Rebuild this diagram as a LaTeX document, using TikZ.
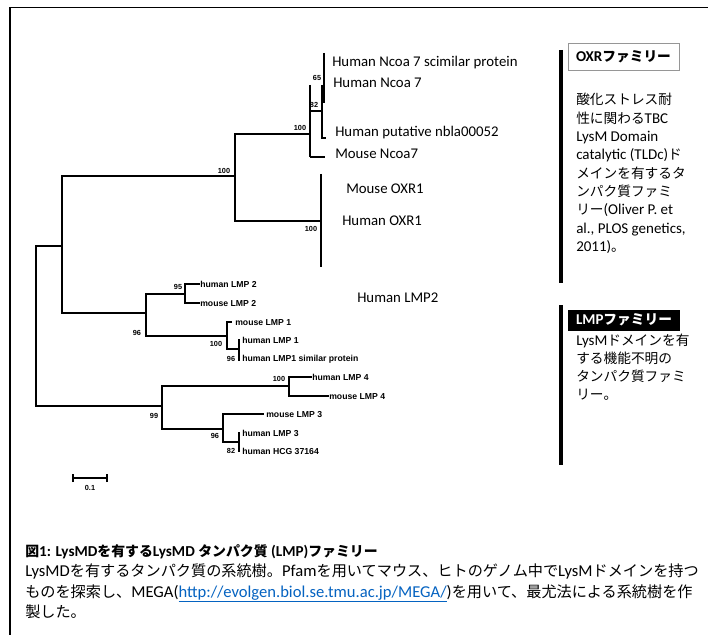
\documentclass[tikz,border=0pt]{standalone}
\usepackage{fontspec}
\setmainfont{Carlito}
\newfontfamily\jp[Scale=0.913]{Noto Sans CJK JP}
\newfontfamily\arialf{Liberation Sans}
\definecolor{linkblue}{RGB}{5,99,193}
\definecolor{boxgray}{RGB}{150,150,150}
\tikzset{
  br/.style={line width=1.1pt, line cap=rect},
  thinbr/.style={line width=0.8pt},
  leaf/.style={anchor=base west, inner sep=0pt, font=\fontsize{11.1}{13}\selectfont},
  lmpleaf/.style={anchor=base west, inner sep=0pt, font=\arialf\bfseries\fontsize{6.5}{8}\selectfont},
  boot/.style={anchor=center, inner sep=0pt, font=\arialf\bfseries\fontsize{5.5}{7}\selectfont},
  ptxt/.style={anchor=base west, inner sep=0pt, font=\fontsize{11.25}{14}\selectfont},
  captxt/.style={anchor=base west, inner sep=0pt, font=\fontsize{12.45}{15}\selectfont},
  sidebar/.style={line width=2.6pt},
}
\begin{document}
\begin{tikzpicture}[x=0.75pt,y=-0.75pt]
\useasboundingbox (0,0) rectangle (708,635);
\fill[white] (0,0) rectangle (708,635);

% frame
\coordinate (fTL) at (10,7.5);
\coordinate (fTR) at (708,7.5);
\coordinate (fBL) at (10,635);
\draw[line width=1.1pt] (fTR) -- (fTL);
\draw[line width=1.5pt] (fTL) -- (fBL);

% ---------- tree coordinates ----------
\coordinate (R) at (36,326);
\coordinate (A) at (62,246);
\coordinate (B) at (162,406);
\coordinate (A1) at (235,176);
\coordinate (A2) at (146,313);
\coordinate (A11) at (310,134);
\coordinate (A12) at (321,221);
\coordinate (A111) at (322,111);
\coordinate (A1111) at (324,85);
\coordinate (tMN) at (325,157);
\coordinate (tNB) at (326,138);
\coordinate (a1) at (324,53);
\coordinate (a2) at (324,103);
\coordinate (a3) at (322,85);
\coordinate (u1) at (321,174);
\coordinate (u2) at (321,267);
\coordinate (A21) at (185,294);
\coordinate (A22) at (227,336);
\coordinate (t2h) at (199,284);
\coordinate (t2m) at (199,303);
\coordinate (t1m) at (231,322);
\coordinate (A221) at (239,349);
\coordinate (v1) at (239,340);
\coordinate (v2) at (239,360);
\coordinate (B1) at (289,386);
\coordinate (B2) at (223,429);
\coordinate (t4h) at (311,377);
\coordinate (t4m) at (328,396);
\coordinate (t3m) at (263,414);
\coordinate (B21) at (239,442);
\coordinate (w1) at (239,433);
\coordinate (w2) at (239,451);

% root
\draw[br] (R |- A) -- (R |- B);
\draw[br] (R |- A) -- (A);
\draw[br] (R |- B) -- (B);
% A
\draw[br] (A |- A1) -- (A |- A2);
\draw[br] (A |- A1) -- (A1);
\draw[br] (A |- A2) -- (A2);
% A1 (OXR clade)
\draw[br] (A1 |- A11) -- (A1 |- A12);
\draw[br] (A1 |- A11) -- (A11);
\draw[br] (A1 |- A12) -- (A12);
\draw[thinbr] (A11 |- a3) -- (A11 |- tMN);
\draw[thinbr] (A11 |- A111) -- (A111);
\draw[thinbr] (A11 |- tMN) -- (tMN);
\draw[thinbr] (a3) -- (A111 |- tNB) -- (tNB);
\draw[thinbr] (a1) -- (a2);
\draw[thinbr] (u1) -- (u2);
% A2 (LMP1/2)
\draw[br] (A2 |- A21) -- (A2 |- A22);
\draw[br] (A2 |- A21) -- (A21);
\draw[br] (A2 |- A22) -- (A22);
\draw[br] (A21 |- t2h) -- (A21 |- t2m);
\draw[br] (A21 |- t2h) -- (t2h);
\draw[br] (A21 |- t2m) -- (t2m);
\draw[br] (A22 |- t1m) -- (A22 |- A221);
\draw[br] (A22 |- t1m) -- (t1m);
\draw[br] (A22 |- A221) -- (A221);
\draw[br] (v1) -- (v2);
% B (LMP3/4)
\draw[br] (B |- B1) -- (B |- B2);
\draw[br] (B |- B1) -- (B1);
\draw[br] (B |- B2) -- (B2);
\draw[br] (B1 |- t4h) -- (B1 |- t4m);
\draw[br] (B1 |- t4h) -- (t4h);
\draw[br] (B1 |- t4m) -- (t4m);
\draw[br] (B2 |- t3m) -- (B2 |- B21);
\draw[br] (B2 |- t3m) -- (t3m);
\draw[br] (B2 |- B21) -- (B21);
\draw[br] (w1) -- (w2);

% bootstrap values
\node[boot] (bA1) at (224,171) {100};
\node[boot] (bA11) at (300,128) {100};
\node[boot] (bA111) at (314,105) {82};
\node[boot] (bA1111) at (317,78) {65};
\node[boot] (bA12) at (311,229) {100};
\node[boot] (bA21) at (178,287) {95};
\node[boot] (bA2) at (137,333) {96};
\node[boot] (bA22) at (216,344) {100};
\node[boot] (bA221) at (231,359) {96};
\node[boot] (bB1) at (279,379) {100};
\node[boot] (bB) at (154,416) {99};
\node[boot] (bB2) at (215,436) {96};
\node[boot] (bB21) at (231,451) {82};

% OXR leaves
\node[leaf] (lN7s) at (332,67) {Human Ncoa 7 scimilar protein};
\node[leaf] (lN7) at (333,88) {Human Ncoa 7};
\node[leaf] (lNB) at (335,137) {Human putative nbla00052};
\node[leaf] (lMN) at (335,159) {Mouse Ncoa7};
\node[leaf] (lMO) at (346,194) {Mouse OXR1};
\node[leaf] (lHO) at (342,225) {Human OXR1};
\node[leaf] (lHL2) at (357,302) {Human LMP2};

% LMP leaves
\node[lmpleaf] (l2h) at (200,287.2) {human LMP 2};
\node[lmpleaf] (l2m) at (200,306.2) {mouse LMP 2};
\node[lmpleaf] (l1m) at (235,325.2) {mouse LMP 1};
\node[lmpleaf] (l1h) at (242,343.2) {human LMP 1};
\node[lmpleaf] (l1s) at (242,361.2) {human LMP1 similar protein};
\node[lmpleaf] (l4h) at (312,380.2) {human LMP 4};
\node[lmpleaf] (l4m) at (329,399.2) {mouse LMP 4};
\node[lmpleaf] (l3m) at (266,417.2) {mouse LMP 3};
\node[lmpleaf] (l3h) at (242,436.2) {human LMP 3};
\node[lmpleaf] (lhcg) at (242,454.2) {human HCG 37164};

% scale bar
\coordinate (sb1) at (73,478);
\coordinate (sb2) at (107,478);
\draw[line width=0.9pt] (sb1) -- (sb2);
\draw[line width=0.9pt] ([yshift=-3]sb1) -- ([yshift=3]sb1);
\draw[line width=0.9pt] ([yshift=-3]sb2) -- ([yshift=3]sb2);
\node[boot] (sbl) at (90,488) {0.1};

% ---------- right panel ----------
\coordinate (bar1a) at (561,50);
\coordinate (bar1b) at (561,283);
\coordinate (bar2a) at (561,305);
\coordinate (bar2b) at (561,465);
\draw[sidebar] (bar1a) -- (bar1b);
\draw[sidebar] (bar2a) -- (bar2b);

\node[draw=boxgray, line width=0.6pt, minimum width=83.25pt, minimum height=20.25pt, inner sep=0pt,
      font=\bfseries\fontsize{11.25}{14}\selectfont] (oxrbox) at (623.5,56.5) {OXR{\jp ファミリー}};
\node[fill=black, text=white, minimum width=84pt, minimum height=15.75pt, inner sep=0pt,
      font=\bfseries\fontsize{11.25}{14}\selectfont] (lmpbox) at (624,320)
      {LMP{\jp ファミリー}};

\node[ptxt] (o1) at (576,105) {{\jp 酸化ストレス耐}};
\node[ptxt] (o2) at (576,123.3) {{\jp 性に関わる}TBC};
\node[ptxt] (o3) at (576,141.6) {LysM Domain};
\node[ptxt] (o4) at (576,159.9) {catalytic (TLDc){\jp ド}};
\node[ptxt] (o5) at (576,178.2) {{\jp メインを有するタ}};
\node[ptxt] (o6) at (576,196.5) {{\jp ンパク質ファミ}};
\node[ptxt] (o7) at (576,214.8) {{\jp リー}(Oliver P. et};
\node[ptxt] (o8) at (576,233.1) {al., PLOS genetics,};
\node[ptxt] (o9) at (576,251.4) {2011){\jp 。}};

\node[ptxt] (m1) at (576,345) {LysM{\jp ドメインを有}};
\node[ptxt] (m2) at (576,363.3) {{\jp する機能不明の}};
\node[ptxt] (m3) at (576,381.6) {{\jp タンパク質ファミ}};
\node[ptxt] (m4) at (576,399.9) {{\jp リー。}};

% ---------- caption ----------
\node[ptxt, font=\bfseries\fontsize{11.4}{14}\selectfont] (c1) at (25,556)
  {{\jp 図}1: LysMD{\jp を有する}LysMD {\jp タンパク質} (LMP){\jp ファミリー}};
\node[captxt] (c2) at (25,576.5)
  {LysMD{\jp を有するタンパク質の系統樹。}Pfam{\jp を用いてマウス、ヒトのゲノム中で}LysM{\jp ドメインを持つ}};
\node[captxt] (c3) at (25,597)
  {{\jp ものを探索し、}MEGA({\color{linkblue}\underline{http://evolgen.biol.se.tmu.ac.jp/MEGA/}}){\jp を用いて、最尤法による系統樹を作}};
\node[captxt] (c4) at (25,617.5) {{\jp 製した。}};
\end{tikzpicture}
\end{document}
